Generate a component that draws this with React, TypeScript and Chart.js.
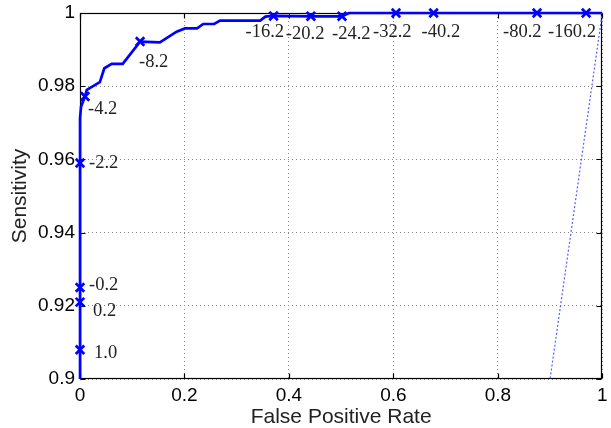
import { useEffect, useRef } from 'react';
import { Chart, registerables } from 'chart.js';

Chart.register(...registerables);

// ROC curve (False Positive Rate vs Sensitivity)
const curveFpr = [0, 0, 0, 0, 0, 0.0005, 0.002, 0.0096, 0.013, 0.038, 0.0466, 0.0607, 0.0818, 0.115, 0.153, 0.185, 0.201, 0.224, 0.236, 0.257, 0.268, 0.345, 0.355, 0.3706, 0.442, 0.5016, 0.515, 0.605, 0.677, 0.875, 0.969, 1];
const curveSens = [0, 0.908, 0.921, 0.925, 0.959, 0.9713, 0.9744, 0.9772, 0.979, 0.9811, 0.9849, 0.9861, 0.9861, 0.9922, 0.992, 0.9949, 0.9958, 0.9958, 0.997, 0.997, 0.9979, 0.9979, 0.999, 0.9992, 0.9991, 0.9991, 1, 1, 1, 1, 1, 1];

// Threshold markers
const thresholdLabels = ['1.0', '0.2', '-0.2', '-2.2', '-4.2', '-8.2', '-16.2', '-20.2', '-24.2', '-32.2', '-40.2', '-80.2', '-160.2'];
const markerFpr = [0, 0, 0, 0, 0.0096, 0.115, 0.3706, 0.442, 0.5016, 0.605, 0.677, 0.875, 0.969];
const markerSens = [0.908, 0.921, 0.925, 0.959, 0.9772, 0.9922, 0.9992, 0.9991, 0.9991, 1, 1, 1, 1];

// Chance diagonal
const diagFpr = [0, 1];
const diagSens = [0, 1];

// Axis ticks
const xTickValues = [0, 0.2, 0.4, 0.6, 0.8, 1];
const xTickLabels = ['0', '0.2', '0.4', '0.6', '0.8', '1'];
const yTickValues = [0.9, 0.92, 0.94, 0.96, 0.98, 1];
const yTickLabels = ['0.9', '0.92', '0.94', '0.96', '0.98', '1'];

// label placement (pixel offsets from marker), style only
const labelOffsets: [number, number][] = [
  [14, 3], [13, 9], [9, -2], [9, 0], [3, 13], [-1, 21], [-28, 16], [-25, 18], [-10, 18], [-23, 19], [-12, 19], [-34, 19], [-38, 19],
];

export default function App() {
  const ref = useRef<HTMLCanvasElement>(null);

  useEffect(() => {
    const canvas = ref.current;
    if (!canvas) return;

    const boxPlugin = {
      id: 'boxTicks',
      beforeDatasetsDraw(chart: any) {
        const { ctx, chartArea: a, scales } = chart;
        ctx.save();
        ctx.strokeStyle = '#000';
        ctx.lineWidth = 1.2;
        const L = Math.round(a.left) + 0.5;
        const R = Math.round(a.right) - 0.5;
        const T = Math.round(a.top) + 0.5;
        const B = Math.round(a.bottom) - 0.5;
        ctx.strokeRect(L, T, R - L, B - T);
        const tl = 5;
        ctx.beginPath();
        xTickValues.forEach((v) => {
          const px = Math.round(scales.x.getPixelForValue(v)) + 0.5;
          ctx.moveTo(px, B); ctx.lineTo(px, B - tl);
          ctx.moveTo(px, T); ctx.lineTo(px, T + tl);
        });
        yTickValues.forEach((v) => {
          const py = Math.round(scales.y.getPixelForValue(v)) + 0.5;
          ctx.moveTo(L, py); ctx.lineTo(L + tl, py);
          ctx.moveTo(R, py); ctx.lineTo(R - tl, py);
        });
        ctx.stroke();
        ctx.restore();
      },
    };

    const labelPlugin = {
      id: 'thresholdLabels',
      afterDatasetsDraw(chart: any) {
        const { ctx, scales } = chart;
        ctx.save();
        ctx.font = '18.5px "Liberation Serif", "DejaVu Serif", serif';
        ctx.fillStyle = '#222';
        ctx.textAlign = 'left';
        ctx.textBaseline = 'middle';
        thresholdLabels.forEach((t, i) => {
          const px = scales.x.getPixelForValue(markerFpr[i]);
          const py = scales.y.getPixelForValue(markerSens[i]);
          const [dx, dy] = labelOffsets[i];
          ctx.fillText(t, px + dx, py + dy);
        });
        ctx.restore();
      },
    };

    const tickFont = { family: '"Liberation Sans", Arial, sans-serif', size: 19 };
    const titleFont = { family: '"Liberation Sans", Arial, sans-serif', size: 21 };

    const chart = new Chart(canvas, {
      type: 'line',
      data: {
        datasets: [
          {
            label: 'diag',
            data: diagFpr.map((x, i) => ({ x, y: diagSens[i] })),
            borderColor: '#5060ff',
            borderWidth: 1.2,
            borderDash: [2, 2],
            pointRadius: 0,
            fill: false,
          },
          {
            label: 'roc',
            data: curveFpr.map((x, i) => ({ x, y: curveSens[i] })),
            borderColor: '#0000ff',
            borderWidth: 2.7,
            pointRadius: 0,
            fill: false,
            tension: 0,
            clip: { left: 3, top: 3, right: 3, bottom: 0 } as any,
          },
          {
            label: 'markers',
            data: markerFpr.map((x, i) => ({ x, y: markerSens[i] })),
            showLine: false,
            pointStyle: 'crossRot',
            pointRadius: 6,
            pointBorderWidth: 2.7,
            pointBorderColor: '#0000ff',
            pointBackgroundColor: '#0000ff',
            borderColor: '#0000ff',
            clip: false as any,
          },
        ],
      },
      options: {
        animation: false,
        responsive: false,
        maintainAspectRatio: false,
        events: [],
        layout: { padding: { top: 13, right: 8, left: 0, bottom: 0 } },
        plugins: { legend: { display: false }, tooltip: { enabled: false } },
        scales: {
          x: {
            type: 'linear',
            min: 0,
            max: 1,
            afterBuildTicks: (s: any) => { s.ticks = xTickValues.map((v) => ({ value: v })); },
            afterFit: (s: any) => { s.height = 49; s.paddingLeft = 0; s.paddingRight = 0; },
            ticks: {
              font: tickFont,
              color: '#000',
              padding: 5,
              maxRotation: 0,
              callback: (v: any) => { const i = xTickValues.indexOf(Number(v)); return i >= 0 ? xTickLabels[i] : ''; },
            },
            grid: { color: '#8a8a8a', lineWidth: 1, drawTicks: false },
            border: { display: false, dash: [1, 3] },
            title: { display: true, text: 'False Positive Rate', font: titleFont, color: '#222', padding: { top: 0, bottom: -2 } },
          },
          y: {
            type: 'linear',
            min: 0.9,
            max: 1,
            afterBuildTicks: (s: any) => { s.ticks = yTickValues.map((v) => ({ value: v })); },
            afterFit: (s: any) => { s.width = 80; s.paddingTop = 0; s.paddingBottom = 0; },
            ticks: {
              font: tickFont,
              color: '#000',
              padding: 5,
              callback: (v: any) => {
                const i = yTickValues.findIndex((t) => Math.abs(t - Number(v)) < 1e-9);
                return i >= 0 ? yTickLabels[i] : '';
              },
            },
            grid: { color: '#8a8a8a', lineWidth: 1, drawTicks: false },
            border: { display: false, dash: [1, 3] },
            title: { display: true, text: 'Sensitivity', font: titleFont, color: '#222', padding: { top: 8, bottom: 0 } },
          },
        },
      },
      plugins: [boxPlugin, labelPlugin],
    } as any);

    return () => chart.destroy();
  }, []);

  return (
    <div style={{ position: 'fixed', left: 0, top: 0, width: 611, height: 428, background: '#fff' }}>
      <canvas ref={ref} width={611} height={428} style={{ width: 611, height: 428, display: 'block' }} />
    </div>
  );
}
